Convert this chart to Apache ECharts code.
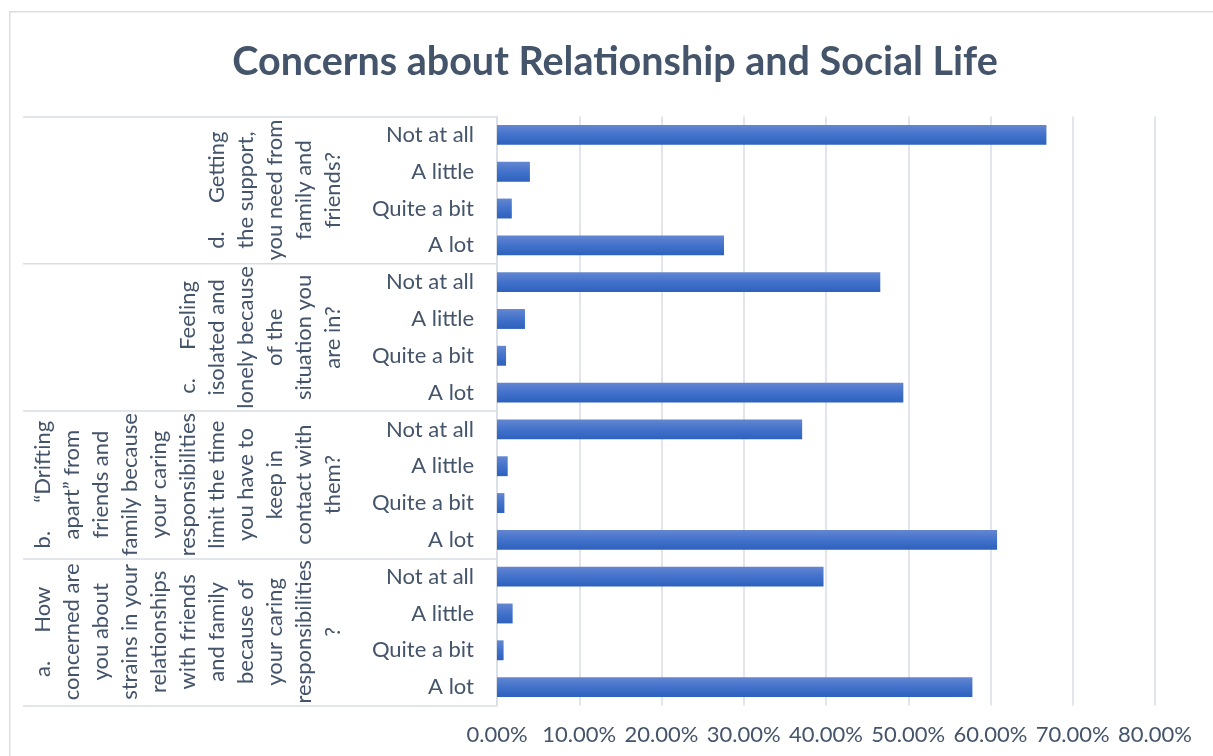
<!DOCTYPE html>
<html>
<head>
<meta charset="utf-8">
<title>Concerns about Relationship and Social Life</title>
<script src="https://cdn.jsdelivr.net/npm/echarts@6/dist/echarts.min.js"></script>
<style>
  html, body { margin: 0; padding: 0; background: #ffffff; }
  #chart { width: 1213px; height: 756px; }
</style>
</head>
<body>
<div id="chart"></div>
<script>
// Answer levels, listed bottom-to-top within each question block
const responseLevels = ['A lot', 'Quite a bit', 'A little', 'Not at all'];

// Question labels (bottom block first), one entry per wrapped line
const questionA = ['a.     How', 'concerned are', 'you about', 'strains in your', 'relationships',
  'with friends', 'and family', 'because of', 'your caring', 'responsibilities', '?'];
const questionB = ['b.     \u201cDrifting', 'apart\u201d from', 'friends and', 'family because',
  'your caring', 'responsibilities', 'limit the time', 'you have to', 'keep in', 'contact with', 'them?'];
const questionC = ['c.     Feeling', 'isolated and', 'lonely because', 'of the', 'situation you', 'are in?'];
const questionD = ['d.     Getting', 'the support,', 'you need from', 'family and', 'friends?'];

// Share of respondents (%) per answer level, same order as responseLevels
const valuesA = [57.8, 0.8, 1.9, 39.7];
const valuesB = [60.8, 0.9, 1.3, 37.1];
const valuesC = [49.4, 1.1, 3.4, 46.6];
const valuesD = [27.6, 1.8, 4.0, 66.8];

// Value axis ticks (%)
const axisMin = 0;
const axisMax = 80;
const axisStep = 10;

const questions = [questionA, questionB, questionC, questionD];
const valueSets = [valuesA, valuesB, valuesC, valuesD];

const innerCategories = [];
const barValues = [];
valueSets.forEach(function (vals) {
  vals.forEach(function (v, i) {
    innerCategories.push(responseLevels[i]);
    barValues.push(v);
  });
});
const outerCategories = questions.map(function (lines) { return lines.join('\n'); });

const textColor = '#44546A';
const gridColor = '#D9DDE4';
const fontFamily = 'Lato, "Open Sans", sans-serif';

const chart = echarts.init(document.getElementById('chart'), null, { renderer: 'canvas' });

chart.setOption({
  backgroundColor: '#ffffff',
  animation: false,
  title: {
    text: 'Concerns about Relationship and Social Life',
    left: 610,
    top: 37,
    textAlign: 'center',
    textStyle: {
      fontFamily: fontFamily,
      fontWeight: 'bold',
      fontSize: 39.5,
      color: textColor
    }
  },
  graphic: [{
    type: 'rect',
    silent: true,
    shape: { x: 9.75, y: 11.75, width: 1230, height: 780 },
    style: { fill: 'none', stroke: gridColor, lineWidth: 1.5 }
  }],
  grid: {
    left: 497,
    right: 58,
    top: 116.5,
    bottom: 50.5,
    containLabel: false
  },
  xAxis: {
    type: 'value',
    min: axisMin,
    max: axisMax,
    interval: axisStep,
    axisLine: { show: false },
    axisTick: { show: false },
    splitLine: { show: true, lineStyle: { color: gridColor, width: 1.5 } },
    axisLabel: {
      margin: 18,
      fontFamily: fontFamily,
      fontSize: 22,
      color: textColor,
      formatter: function (v) { return v.toFixed(2) + '%'; }
    }
  },
  yAxis: [{
    type: 'category',
    data: innerCategories,
    position: 'left',
    axisLine: { show: true, lineStyle: { color: gridColor, width: 1.5 } },
    axisTick: { show: false },
    axisLabel: {
      interval: 0,
      margin: 23,
      fontFamily: fontFamily,
      fontSize: 22,
      color: textColor
    }
  }, {
    type: 'category',
    data: outerCategories,
    position: 'left',
    axisLine: { show: false },
    axisTick: {
      show: true,
      length: 474,
      alignWithLabel: false,
      lineStyle: { color: gridColor, width: 1.5 }
    },
    axisLabel: {
      interval: 0,
      rotate: 90,
      margin: 150,
      hideOverlap: false,
      fontFamily: fontFamily,
      fontSize: 22,
      lineHeight: 29,
      color: textColor
    }
  }],
  series: [{
    type: 'bar',
    yAxisIndex: 0,
    data: barValues,
    barCategoryGap: '46%',
    itemStyle: {
      color: new echarts.graphic.LinearGradient(0, 0, 0, 1, [
        { offset: 0, color: '#6486D1' },
        { offset: 0.5, color: '#4272CB' },
        { offset: 1, color: '#2D61BD' }
      ])
    }
  }]
});
</script>
</body>
</html>
